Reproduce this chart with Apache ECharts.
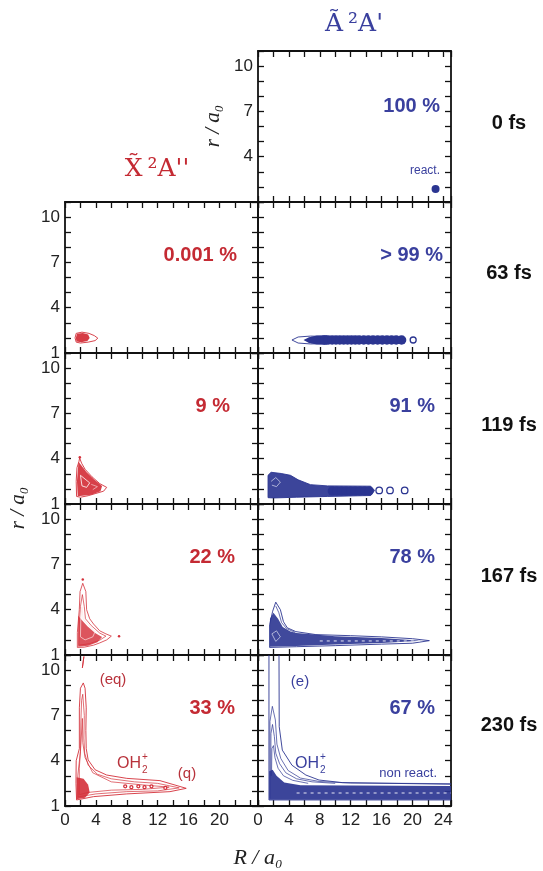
<!DOCTYPE html>
<html>
<head>
<meta charset="utf-8">
<script src="https://cdn.jsdelivr.net/npm/echarts@6.0.0/dist/echarts.min.js"></script>
<style>
  html, body { margin: 0; padding: 0; background: #fff; }
  #chart { width: 543px; height: 871px; }
</style>
</head>
<body>
<div id="chart"></div>
<script>
// ---- axes / labels ----
var R_MIN = 0, R_MAX = 25, R_STEP = 2;
var r_MIN = 1, r_MAX = 11, r_STEP = 1;
var timeLabels = ['0 fs', '63 fs', '119 fs', '167 fs', '230 fs'];
var pctX = ['', '0.001 %', '9 %', '22 %', '33 %'];   // X~ 2A'' column
var pctA = ['100 %', '> 99 %', '91 %', '78 %', '67 %']; // A~ 2A' column

// ---- densities (contours, [R, r] in a0) ----
// 0 fs, A
var A0_dot = [[23.0, 1.86]];

// 63 fs, X
var X63_outer = [[1.3,2.0],[1.45,2.3],[2.2,2.38],[3.1,2.3],[3.8,2.15],[4.25,1.98],[3.9,1.82],[3.0,1.72],[2.0,1.66],[1.45,1.72],[1.3,2.0]];
var X63_core = [[1.4,2.0],[1.55,2.28],[2.3,2.33],[3.0,2.22],[3.2,2.0],[2.9,1.8],[2.1,1.72],[1.5,1.76],[1.4,2.0]];
// 63 fs, A
var A63_lead = [[4.4,1.86],[5.2,2.06],[6.8,2.12],[8.5,2.1],[8.5,1.62],[6.8,1.6],[5.2,1.66],[4.4,1.86]];
var A63_body = [[5.9,1.86],[6.6,2.05],[7.6,2.16],[9.0,2.18],[9.0,1.54],[7.6,1.56],[6.6,1.66],[5.9,1.86]];
var A63_chain = [[8.6,1.86],[9.1,1.86],[9.6,1.86],[10.1,1.86],[10.6,1.86],[11.1,1.86],[11.6,1.86],[12.1,1.86],[12.6,1.86],[13.1,1.86],[13.7,1.86],[14.3,1.86],[14.9,1.86],[15.5,1.86],[16.1,1.86],[16.7,1.86],[17.3,1.86],[17.9,1.86],[18.6,1.86]];
var A63_ring = [[20.1,1.86]];

// 119 fs, X
var X119_outer = [[1.9,4.05],[2.15,3.7],[2.6,3.3],[3.5,2.8],[4.5,2.35],[5.4,2.1],[5.0,1.85],[4.0,1.7],[3.0,1.55],[2.0,1.45],[1.5,1.5],[1.45,2.5],[1.55,3.4],[1.8,3.8],[1.9,4.05]];
var X119_core = [[1.75,3.8],[2.2,3.5],[2.8,3.1],[3.7,2.65],[4.8,2.2],[4.6,1.85],[3.4,1.62],[1.65,1.52],[1.55,2.5],[1.75,3.8]];
var X119_gap = [[2.0,2.9],[2.6,2.65],[3.2,2.4],[2.8,2.1],[2.2,2.2],[2.0,2.9]];
var X119_gap2 = [[3.4,2.3],[4.2,2.15],[3.6,1.95]];
// 119 fs, A
var A119_outer = [[1.3,1.42],[1.3,2.9],[1.7,3.1],[3.0,3.02],[4.2,2.9],[5.2,2.6],[6.8,2.28],[9.0,2.2],[14.6,2.18],[15.1,1.9],[14.6,1.56],[9.0,1.5],[5.0,1.45],[2.0,1.4],[1.3,1.42]];
var A119_gap = [[1.7,2.5],[2.3,2.75],[2.9,2.45],[2.4,2.15],[1.8,2.25]];
var A119_chain = [[9.6,1.86],[10.2,1.86],[10.8,1.86],[11.4,1.86],[12.0,1.86],[12.6,1.86],[13.2,1.86],[13.8,1.86],[14.4,1.86]];
var A119_ring = [[15.7,1.9],[17.1,1.9],[19.0,1.9]];

// 167 fs, X
var X167_outer = [[2.3,5.75],[2.7,5.2],[2.8,4.0],[3.2,3.4],[3.7,3.05],[4.5,2.6],[5.3,2.4],[6.0,2.25],[5.4,2.0],[4.5,1.8],[3.7,1.65],[2.5,1.52],[1.6,1.5],[1.6,2.5],[1.85,4.0],[1.95,5.2],[2.3,5.75]];
var X167_mid = [[2.25,5.0],[2.5,4.2],[2.65,3.4],[3.4,2.95],[4.5,2.45],[5.3,2.25],[4.5,1.98],[3.2,1.75],[1.8,1.65],[1.85,3.0],[2.0,4.2],[2.25,5.0]];
var X167_in = [[2.2,4.2],[2.35,3.4],[3.0,3.0],[3.9,2.55],[3.6,2.2],[2.6,2.0],[2.0,2.2],[2.05,3.4],[2.2,4.2]];
var X167_core = [[1.7,3.6],[2.2,3.3],[2.9,2.9],[3.9,2.45],[4.8,2.2],[4.2,1.85],[3.0,1.62],[1.7,1.55],[1.7,3.6]];
var X167_dot = [[7.0,2.25],[2.3,6.0]];
// 167 fs, A
var A167_outer = [[2.3,4.5],[2.9,4.0],[3.3,3.2],[3.8,2.8],[4.9,2.55],[7.5,2.35],[12,2.28],[16,2.2],[20,2.08],[22.2,1.95],[20,1.78],[16,1.72],[10,1.62],[5,1.55],[1.5,1.5],[1.5,3.0],[1.9,3.9],[2.3,4.5]];
var A167_core = [[1.55,3.4],[2.0,3.8],[2.6,3.4],[3.2,2.85],[4.2,2.55],[5,2.45],[10,2.24],[16,2.12],[21.2,1.94],[16,1.8],[10,1.7],[5,1.6],[1.55,1.55],[1.55,3.4]];
var A167_mid = [[2.3,4.25],[2.7,3.8],[3.05,3.15],[3.7,2.75],[4.8,2.5]];
var A167_gap = [[1.8,2.4],[2.4,2.6],[2.9,2.2],[2.3,1.9],[1.8,2.4]];
var A167_stripe = [[8,1.93],[21,1.93]];

// 230 fs, X
var X230_outer = [[2.37,9.15],[2.6,8.8],[2.75,7.5],[2.7,6.0],[2.75,4.8],[3.0,4.05],[3.9,3.4],[5.4,3.05],[8.0,2.83],[12.3,2.68],[15.7,2.17],[13.6,1.95],[8.0,1.8],[3.7,1.62],[1.5,1.4],[1.42,2.5],[1.45,4.0],[1.86,4.8],[1.86,7.5],[2.0,8.8],[2.37,9.15]];
var X230_mid = [[2.3,8.4],[2.5,7.0],[2.45,5.5],[2.55,4.5],[3.0,3.7],[4.2,3.1],[6.0,2.8],[9.0,2.6],[12,2.5],[14.8,2.2],[12,2.0],[8,1.95],[4,1.8],[1.7,1.6],[1.65,3.0],[2.0,4.6],[2.05,6.5],[2.15,8.0],[2.3,8.4]];
var X230_in = [[2.25,6.8],[2.3,5.2],[2.6,4.2],[3.6,3.2],[6,2.6],[10,2.4],[13.5,2.25],[10,2.1],[6,2.05],[3,1.9],[1.85,1.75],[1.85,3.5],[2.05,5.0],[2.25,6.8]];
var X230_core = [[1.5,2.9],[2.4,2.8],[3.0,2.4],[3.2,1.9],[2.6,1.55],[1.5,1.45],[1.5,2.9]];
var X230_top = [[2.25,10.15],[2.4,10.15],[2.45,10.9],[2.3,10.9],[2.25,10.15]];
var X230_spots = [[7.8,2.3],[8.6,2.25],[9.5,2.3],[10.3,2.25],[11.2,2.3],[13.0,2.2]];
// 230 fs, A
var A230_left = [[1.42,11],[1.42,1.4],[25,1.4]];
var A230_right = [[2.72,11],[2.75,6.25],[3.15,4.7],[4.4,3.7],[6.2,3.05],[7.9,2.72],[10.9,2.55],[25,2.44]];
var A230_c1 = [[1.55,1.5],[1.55,6.6],[1.86,7.6],[2.25,6.7],[2.45,5.1],[2.95,4.15],[3.9,3.35],[5.5,2.85],[8,2.62],[12,2.52],[25,2.48]];
var A230_c2 = [[1.65,3.0],[1.68,5.8],[1.88,6.4],[2.12,5.6],[2.3,4.5],[2.8,3.8],[3.6,3.2],[5,2.8],[7,2.6],[10,2.5]];
var A230_c3 = [[1.75,3.0],[1.8,4.8],[2.0,5.0],[2.2,4.2],[2.6,3.5],[3.3,3.0],[4.5,2.7],[6.5,2.5]];
var A230_band = [[1.45,1.42],[1.45,3.3],[1.9,3.4],[2.4,3.0],[3.4,2.55],[5.5,2.38],[25,2.32],[25,1.42],[1.45,1.42]];
var A230_stripe = [[5,1.86],[25,1.86]];

var RED = '#d4303a', BLUE = '#2b3591';
var RED_TXT = '#c42a33', BLUE_TXT = '#3a409e';

// panel layout: grid 0 = top right, then rows 1..4 (left = X, right = A)
var colLeft = [65, 258], colW = 193;
var rowTop = [51, 202, 353, 504, 655], rowH = 151;
var panels = [{ c: 1, r: 0 }];
for (var k = 1; k <= 4; k++) { panels.push({ c: 0, r: k }); panels.push({ c: 1, r: k }); }

var grids = [], xAxes = [], yAxes = [];
var tickStyle = { show: true, inside: true, length: 6, lineStyle: { color: '#111', width: 1.3 } };
var lineStyle = { show: true, onZero: false, lineStyle: { color: '#111', width: 1.8 } };
var labelFont = { color: '#222', fontSize: 17, fontFamily: 'Liberation Sans, Arial, sans-serif' };

panels.forEach(function (p, i) {
  grids.push({ left: colLeft[p.c], top: rowTop[p.r], width: colW, height: rowH, show: false });
  var xLab = false, xMaxLab = 0;
  if (i === 7) { xLab = true; xMaxLab = 20; }
  if (i === 8) { xLab = true; xMaxLab = 24; }
  var yLab = (p.c === 0) || i === 0;
  var yMinLab = i === 0 ? 4 : 1;
  xAxes.push({
    type: 'value', gridIndex: i, min: R_MIN, max: R_MAX, interval: R_STEP, position: 'bottom',
    axisLine: lineStyle, axisTick: tickStyle, splitLine: { show: false },
    axisLabel: Object.assign({ show: xLab, margin: 6,
      formatter: function (v) { return (v % 4 === 0 && v <= xMaxLab) ? String(v) : ''; } }, labelFont)
  });
  xAxes.push({
    type: 'value', gridIndex: i, min: R_MIN, max: R_MAX, interval: R_STEP, position: 'top',
    axisLine: lineStyle, axisTick: tickStyle, splitLine: { show: false }, axisLabel: { show: false }
  });
  yAxes.push({
    type: 'value', gridIndex: i, min: r_MIN, max: r_MAX, interval: r_STEP, position: 'left',
    axisLine: lineStyle, axisTick: tickStyle, splitLine: { show: false },
    axisLabel: Object.assign({ show: yLab, margin: 5,
      formatter: function (v) { return ((v - 1) % 3 === 0 && v >= yMinLab) ? String(v) : ''; } }, labelFont)
  });
  yAxes.push({
    type: 'value', gridIndex: i, min: r_MIN, max: r_MAX, interval: r_STEP, position: 'right',
    axisLine: lineStyle, axisTick: tickStyle, splitLine: { show: false }, axisLabel: { show: false }
  });
});

function contour(g, pts, color, w, dash) {
  return { type: 'line', xAxisIndex: 2 * g, yAxisIndex: 2 * g, data: pts, symbol: 'none',
    silent: true, animation: false, z: 3,
    lineStyle: { color: color, width: w || 0.8, type: dash || 'solid' } };
}
function patch(g, pts, color, op) {
  return { type: 'custom', xAxisIndex: 2 * g, yAxisIndex: 2 * g, data: [pts[0]],
    silent: true, animation: false, z: 2,
    renderItem: function (params, api) {
      return { type: 'polygon', shape: { points: pts.map(function (q) { return api.coord(q); }) },
        style: { fill: color, opacity: op } };
    } };
}
function dots(g, pts, color, size, hollow) {
  return { type: 'scatter', xAxisIndex: 2 * g, yAxisIndex: 2 * g, data: pts, symbolSize: size,
    silent: true, animation: false, z: 4,
    itemStyle: hollow ? { color: '#fff', borderColor: color, borderWidth: 1.3, opacity: 1 }
                      : { color: color, opacity: 1 } };
}

var series = [
  // 0 fs
  dots(0, A0_dot, BLUE, 8),
  // 63 fs
  patch(1, X63_core, RED, 0.95), contour(1, X63_outer, RED, 0.9),
  contour(2, A63_lead, BLUE, 0.9), patch(2, A63_body, BLUE, 1), dots(2, A63_chain, BLUE, 9.5),
  dots(2, A63_ring, BLUE, 6, true),
  // 119 fs
  patch(3, X119_core, RED, 0.92), contour(3, X119_outer, RED, 0.9), contour(3, X119_gap, '#fff', 0.8),
  contour(3, X119_gap2, '#f3c9cc', 0.7), dots(3, [[1.92, 4.1]], RED, 2.5),
  patch(4, A119_outer, BLUE, 0.92), contour(4, A119_outer, BLUE, 0.9), contour(4, A119_gap, '#c9cbe6', 0.8),
  dots(4, A119_chain, BLUE, 9), dots(4, A119_ring, BLUE, 6.5, true),
  // 167 fs
  patch(5, X167_core, RED, 0.82), contour(5, X167_outer, RED, 0.8), contour(5, X167_mid, RED, 0.7),
  contour(5, X167_in, '#fbe3e4', 0.7), dots(5, X167_dot, RED, 2.5),
  patch(6, A167_core, BLUE, 0.9), contour(6, A167_outer, BLUE, 0.9), contour(6, A167_mid, BLUE, 0.7),
  contour(6, A167_gap, '#c9cbe6', 0.8), contour(6, A167_stripe, '#e6e7f4', 1, [3, 4]),
  // 230 fs
  patch(7, X230_core, RED, 0.9), contour(7, X230_outer, RED, 0.9), contour(7, X230_mid, RED, 0.7),
  contour(7, X230_in, RED, 0.7), contour(7, X230_top, RED, 0.9), dots(7, X230_spots, RED, 3, true),
  patch(8, A230_band, BLUE, 0.92), contour(8, A230_left, BLUE, 0.9), contour(8, A230_right, BLUE, 0.9),
  contour(8, A230_c1, BLUE, 0.7), contour(8, A230_c2, BLUE, 0.7), contour(8, A230_c3, BLUE, 0.7),
  contour(8, A230_stripe, '#e6e7f4', 1, [3, 4])
];

// ---- texts ----
var SANS = 'Liberation Sans, Arial, sans-serif';
var SERIF = 'DejaVu Serif, serif';
function txt(x, y, s, font, color, align, rot) {
  return { type: 'text', x: x, y: y, z: 100, rotation: rot || 0, silent: true,
    style: { text: s, font: font, fill: color, align: align || 'center', verticalAlign: 'middle' } };
}
function oh2(x, y, color) {
  return { type: 'group', z: 100, children: [
    txt(x, y, 'OH', '16px ' + SANS, color, 'left'),
    txt(x + 25, y + 6, '2', '10px ' + SANS, color, 'left'),
    txt(x + 25, y - 7, '+', '10px ' + SANS, color, 'left')
  ] };
}

var pctPos = [[440, 106], [237, 255], [443, 255], [230, 406], [435, 406], [235, 557], [435, 557], [235, 708], [435, 708]];
var timeY = [123, 273, 425, 576, 725];

var graphics = [
  txt(354, 24, 'A\u0303\u2009\u00b2A\'', '25px ' + SERIF, BLUE_TXT),
  txt(157, 169, 'X\u0303\u2009\u00b2A\'\'', '25px ' + SERIF, RED_TXT),
  txt(213, 126, 'r / a\u2080', 'italic 21px Liberation Serif, DejaVu Serif, serif', '#222', 'center', Math.PI / 2),
  txt(18, 508, 'r / a\u2080', 'italic 21px Liberation Serif, DejaVu Serif, serif', '#222', 'center', Math.PI / 2),
  txt(258, 858, 'R / a\u2080', 'italic 22px Liberation Serif, DejaVu Serif, serif', '#222'),
  txt(440, 171, 'react.', '12px ' + SANS, BLUE_TXT, 'right'),
  txt(113, 680, '(eq)', '15px ' + SANS, '#b8323b'),
  txt(187, 774, '(q)', '15px ' + SANS, '#b8323b'),
  oh2(117, 764, '#b8323b'),
  txt(300, 682, '(e)', '15px ' + SANS, BLUE_TXT),
  oh2(295, 764, BLUE_TXT),
  txt(437, 773, 'non react.', '13px ' + SANS, BLUE_TXT, 'right')
];
timeLabels.forEach(function (t, k) { graphics.push(txt(509, timeY[k], t, 'bold 20px ' + SANS, '#111')); });
panels.forEach(function (p, i) {
  var s = p.c === 0 ? pctX[p.r] : pctA[p.r];
  if (s) graphics.push(txt(pctPos[i][0], pctPos[i][1], s, 'bold 20px ' + SANS, p.c === 0 ? RED_TXT : BLUE_TXT, 'right'));
});

var chart = echarts.init(document.getElementById('chart'));
chart.setOption({
  animation: false,
  backgroundColor: '#fff',
  grid: grids,
  xAxis: xAxes,
  yAxis: yAxes,
  series: series,
  graphic: graphics
});
</script>
</body>
</html>
